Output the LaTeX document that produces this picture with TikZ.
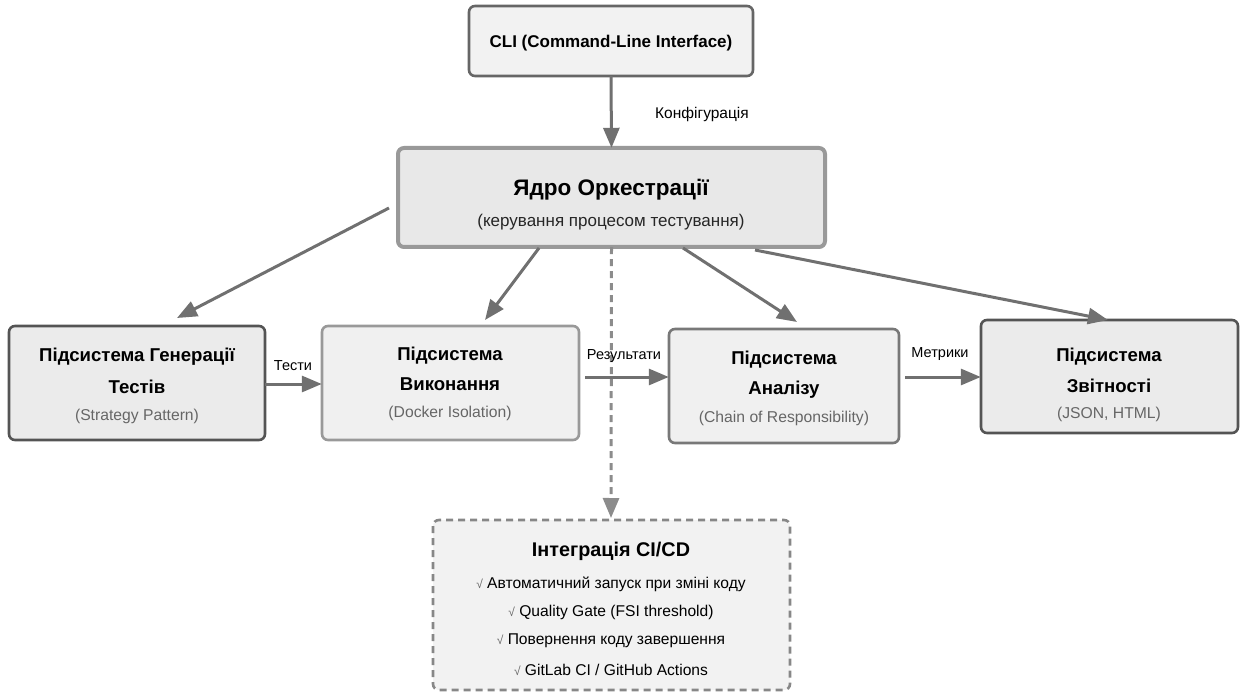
\documentclass[tikz,border=0pt]{standalone}
\usepackage{fontspec}
\setmainfont{Liberation Sans}
\usetikzlibrary{arrows.meta,calc}
\definecolor{arr}{HTML}{707070}
\definecolor{subtxt}{HTML}{666666}
\tikzset{
  box/.style={draw, rounded corners=6pt, line width=2.6pt, inner sep=0pt},
  flow/.style={draw=arr, line width=3pt, -{Triangle[length=20pt,width=16pt]}},
  title/.style={font=\bfseries\fontsize{18.6}{22}\selectfont, text=black},
  sub/.style={font=\fontsize{15.7}{18}\selectfont, text=subtxt},
  lbl/.style={font=\fontsize{14.5}{17}\selectfont, text=black},
  item/.style={font=\fontsize{15.6}{18}\selectfont, text=black},
}
\newcommand{\tick}{{\color{subtxt}\fontsize{12}{14}\selectfont√}}
\begin{document}
\begin{tikzpicture}[x=1pt,y=-1pt]
\useasboundingbox (0,0) rectangle (1245,695);

% boxes
\draw[box, draw=black!60, fill=black!5] (469,6) rectangle (753,76);
\node (cli) at (611,41) [minimum width=284pt, minimum height=70pt] {};
\draw[box, draw=black!40, fill=black!9, line width=4pt] (398,148) rectangle (825,247);
\node (core) at (611.5,197.5) [minimum width=427pt, minimum height=99pt] {};
\draw[box, draw=black!67, fill=black!8] (9,326) rectangle (265,440);
\node (gen) at (137,383) [minimum width=256pt, minimum height=114pt] {};
\draw[box, draw=black!40, fill=black!6] (322,326) rectangle (579,440);
\node (exec) at (450.5,383) [minimum width=257pt, minimum height=114pt] {};
\draw[box, draw=black!53, fill=black!6] (669,329) rectangle (899,443);
\node (ana) at (784,386) [minimum width=230pt, minimum height=114pt] {};
\draw[box, draw=black!67, fill=black!8] (981,320) rectangle (1238,433);
\node (rep) at (1109.5,376.5) [minimum width=257pt, minimum height=113pt] {};
\draw[box, draw=black!47, fill=black!5, dashed, dash pattern=on 7pt off 5pt] (433,520) rectangle (790,690);
\node (ci) at (611.5,605) [minimum width=357pt, minimum height=170pt] {};

% texts
\node[title, font=\bfseries\fontsize{17}{20}\selectfont] (tcli) at (611,43) {CLI (Command-Line Interface)};
\node[title, font=\bfseries\fontsize{22.5}{26}\selectfont] (tcore) at (611,190) {Ядро Оркестрації};
\node[sub, font=\fontsize{17}{20}\selectfont, text=black!85] (score) at (611,222) {(керування процесом тестування)};

\node[title] (tgen1) at (137,357) {Підсистема Генерації};
\node[title] (tgen2) at (137,387) {Тестів};
\node[sub] (sgen) at (137,416) {(Strategy Pattern)};

\node[title] (texe1) at (450,356) {Підсистема};
\node[title] (texe2) at (450,384) {Виконання};
\node[sub] (sexe) at (450,413) {(Docker Isolation)};

\node[title] (tana1) at (784,360) {Підсистема};
\node[title] (tana2) at (784,390) {Аналізу};
\node[sub] (sana) at (784,418) {(Chain of Responsibility)};

\node[title] (trep1) at (1109,357) {Підсистема};
\node[title] (trep2) at (1109,386) {Звітності};
\node[sub] (srep) at (1109,414) {(JSON, HTML)};

\node[title, font=\bfseries\fontsize{19.8}{23}\selectfont] (tci) at (611,551) {Інтеграція CI/CD};
\node[item] (ci1) at (611,584) {\tick\ Автоматичний запуск при зміні коду};
\node[item] (ci2) at (611,612) {\tick\ Quality Gate (FSI threshold)};
\node[item] (ci3) at (611,641) {\tick\ Повернення коду завершення};
\node[item] (ci4) at (611,670) {\tick\ GitLab CI / GitHub Actions};

% connector end points
\coordinate (cgenS) at (389,208);
\coordinate (cgenE) at (177,318);
\coordinate (cexeS) at (539,248);
\coordinate (cexeE) at (485,320);
\coordinate (canaS) at (683,248);
\coordinate (canaE) at (797,322);
\coordinate (crepS) at (755,250);
\coordinate (crepE) at (1108,320);
\coordinate (cciE) at (611,518);
\coordinate (exeR) at (585,377);
\coordinate (anaR) at (905,377);

% connectors
\draw[flow] (cli.south) -- (core.north);
\node[lbl, font=\fontsize{15.5}{18}\selectfont] (lconf) at (702,114) {Конфігурація};
\draw[flow] (cgenS) -- (cgenE);
\draw[flow] (cexeS) -- (cexeE);
\draw[flow] (canaS) -- (canaE);
\draw[flow] (crepS) -- (crepE);
\draw[flow, draw=black!45, dashed, dash pattern=on 7pt off 5pt] (core.south) -- (cciE);

\draw[flow] (gen.east |- 0,384) -- (exec.west |- 0,384);
\node[lbl] (ltest) at (293,366) {Тести};
\draw[flow] (exeR) -- (ana.west |- exeR);
\node[lbl] (lres) at (624,356) {Результати};
\draw[flow] (anaR) -- (rep.west |- anaR);
\node[lbl] (lmet) at (940,354) {Метрики};
\end{tikzpicture}
\end{document}
